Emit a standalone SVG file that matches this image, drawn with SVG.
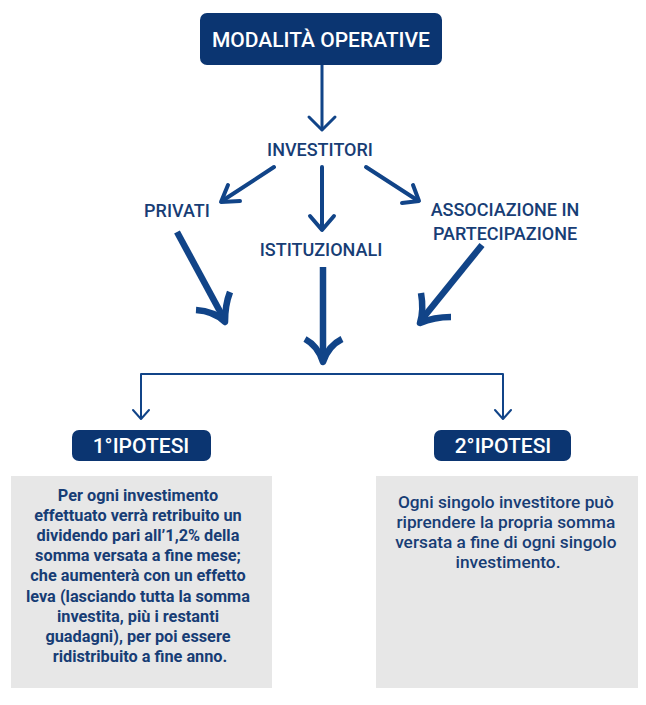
<svg xmlns="http://www.w3.org/2000/svg" width="646" height="705" viewBox="0 0 646 705">
<style>
.box{fill:#0b3571}
.card{fill:#e7e7e7}
.ht{font-family:Roboto,"Liberation Sans",sans-serif;font-weight:500;fill:#ffffff;text-anchor:middle}
.lb{font-family:Roboto,"Liberation Sans",sans-serif;font-weight:500;font-size:18px;fill:#173d75;text-anchor:middle}
.b1{font-family:Roboto,"Liberation Sans",sans-serif;font-weight:700;font-size:16.3px;fill:#173d75;text-anchor:middle}
.b2{font-family:Roboto,"Liberation Sans",sans-serif;font-weight:500;font-size:17.3px;fill:#173d75;text-anchor:middle}
.c{fill:none;stroke:#114488;stroke-linecap:round;stroke-linejoin:round}
.t3{stroke-width:3}
.t4{stroke-width:4}
.t6{stroke-width:6.5;stroke-linecap:butt}
.t2{stroke-width:2}
</style>
<rect width="646" height="705" fill="#ffffff"/>
<g id="connectors">
  <path class="c t3" d="M322 65V129"/>
  <path class="c t3" d="M309 117L322 130L335 117"/>
  <path class="c t4" d="M274 167L222 201"/>
  <path class="c t4" d="M228 185L221 202L240 201"/>
  <path class="c t4" d="M322 167V229"/>
  <path class="c t4" d="M310 216L322 230L334 216"/>
  <path class="c t4" d="M366 167L417 200"/>
  <path class="c t4" d="M413 185L419 201L402 203"/>
  <path class="c t6" d="M177 232L223 317"/>
  <path class="c t6" d="M196 310Q214 311 225 322Q225 305 230 292"/>
  <path class="c t6" d="M323 267V358"/>
  <path class="c t6" d="M305 339Q318 346 323 362Q328 346 342 339"/>
  <path class="c t6" d="M482 245L423 318"/>
  <path class="c t6" d="M421 293Q424 310 420 323Q434 317 451 317"/>
  <path class="c t2" d="M141 418V374H503V418"/>
  <path class="c t2" d="M133 410L141 419L149 410"/>
  <path class="c t2" d="M495 410L503 419L511 410"/>
</g>
<g id="modalita">
  <rect class="box" x="200" y="13" width="242" height="52" rx="7"/>
  <text class="ht" x="321" y="47" font-size="21">MODALITÀ OPERATIVE</text>
</g>
<g id="investitori"><text class="lb" x="320" y="156">INVESTITORI</text></g>
<g id="privati"><text class="lb" x="177" y="217">PRIVATI</text></g>
<g id="istituzionali"><text class="lb" x="321" y="256">ISTITUZIONALI</text></g>
<g id="associazione">
  <text class="lb" x="505" y="216">ASSOCIAZIONE IN</text>
  <text class="lb" x="505" y="240">PARTECIPAZIONE</text>
</g>
<g id="ipotesi1">
  <rect class="box" x="72" y="430" width="139" height="31" rx="7"/>
  <text class="ht" x="141" y="453" font-size="21">1°IPOTESI</text>
</g>
<g id="ipotesi2">
  <rect class="box" x="434" y="430" width="137" height="31" rx="7"/>
  <text class="ht" x="503" y="453" font-size="21">2°IPOTESI</text>
</g>
<g id="card1">
  <rect class="card" x="11" y="476" width="261" height="212"/>
  <text class="b1">
    <tspan x="140" y="501">Per ogni investimento</tspan>
    <tspan x="140" y="521">effettuato verrà retribuito un</tspan>
    <tspan x="140" y="541">dividendo pari all’1,2% della</tspan>
    <tspan x="140" y="561">somma versata a fine mese;</tspan>
    <tspan x="140" y="581">che aumenterà con un effetto</tspan>
    <tspan x="140" y="602">leva (lasciando tutta la somma</tspan>
    <tspan x="140" y="622">investita, più i restanti</tspan>
    <tspan x="140" y="642">guadagni), per poi essere</tspan>
    <tspan x="140" y="662">ridistribuito a fine anno.</tspan>
  </text>
</g>
<g id="card2">
  <rect class="card" x="376" y="476" width="262" height="212"/>
  <text class="b2">
    <tspan x="508" y="508">Ogni singolo investitore può</tspan>
    <tspan x="508" y="528">riprendere la propria somma</tspan>
    <tspan x="508" y="548">versata a fine di ogni singolo</tspan>
    <tspan x="508" y="568">investimento.</tspan>
  </text>
</g>
</svg>
